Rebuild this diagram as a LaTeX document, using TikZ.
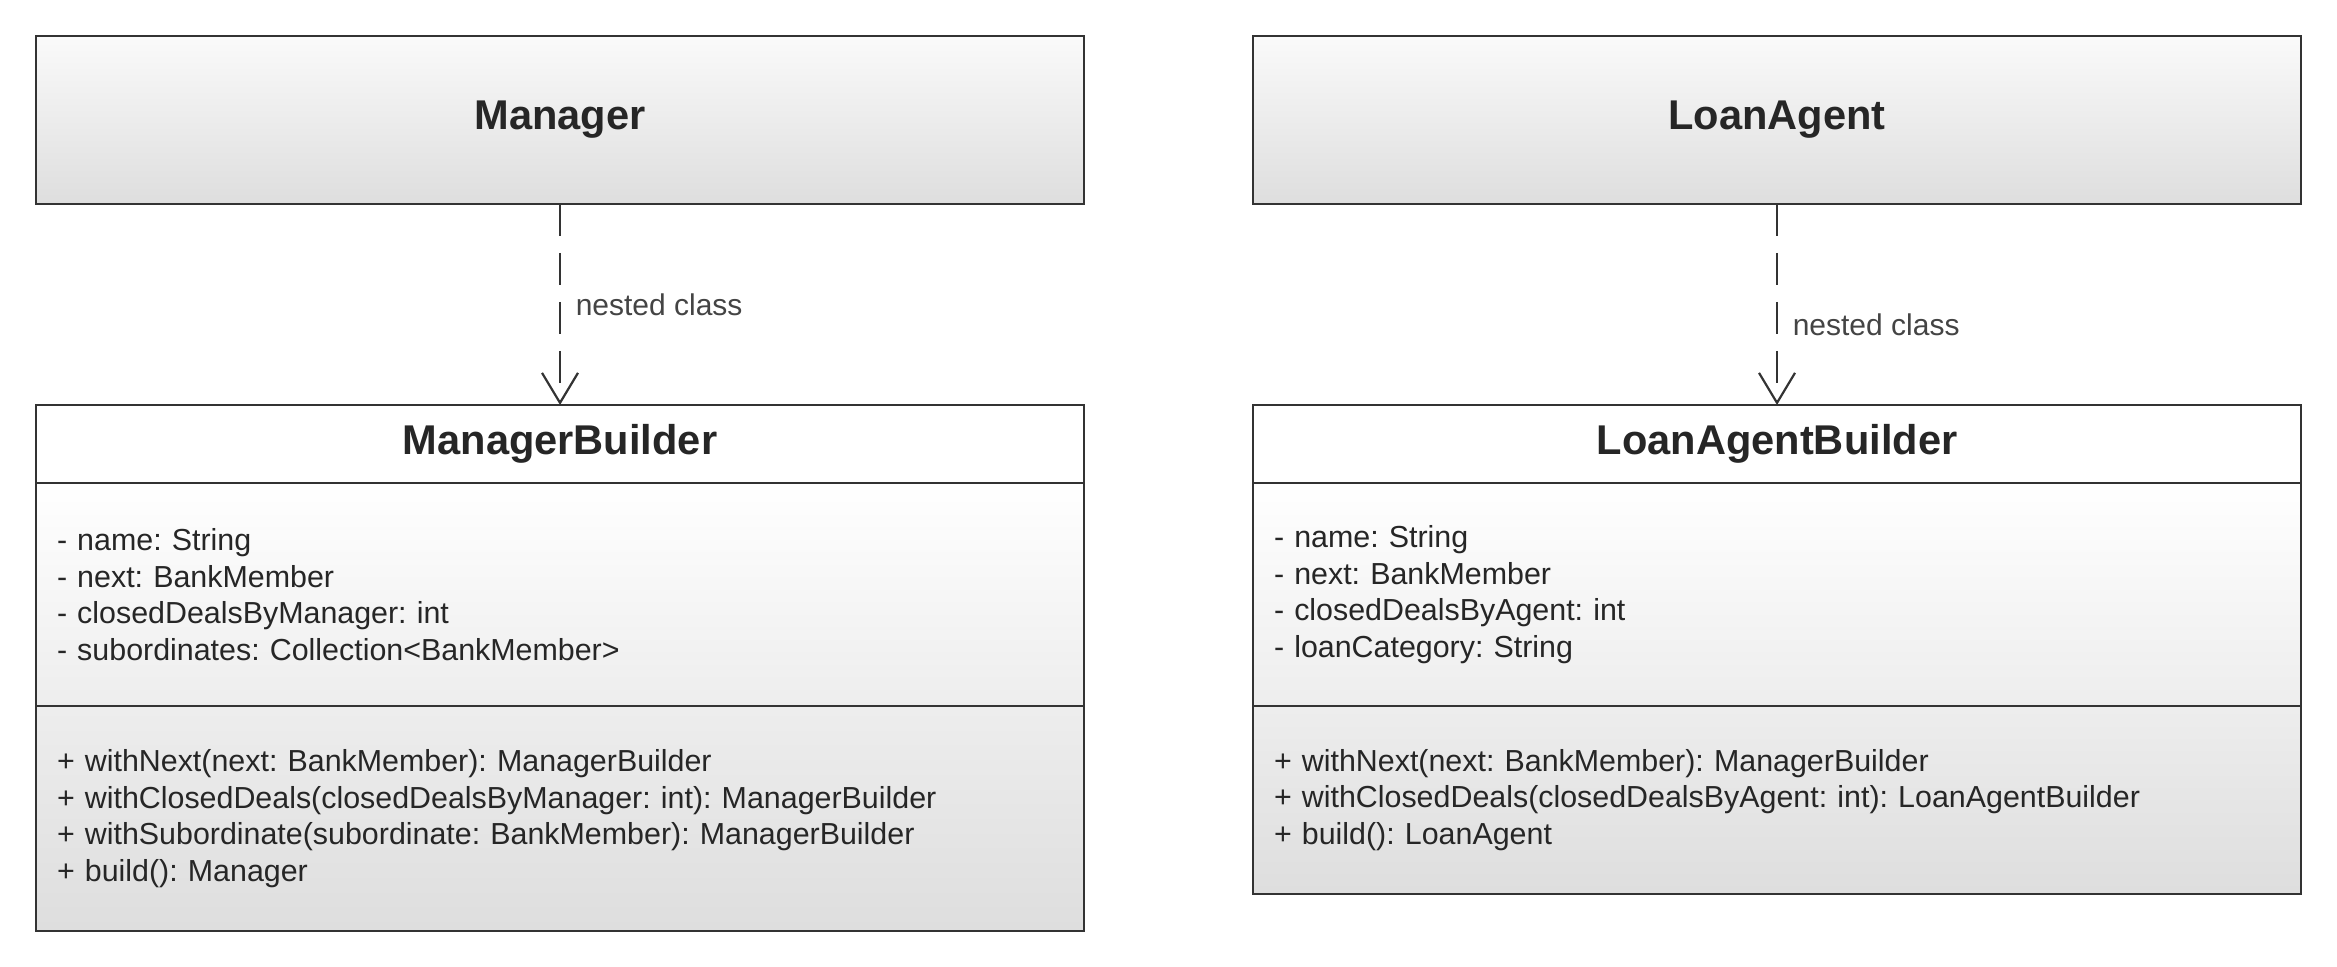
\documentclass[tikz,border=0pt]{standalone}
\usepackage{fontspec}
\setmainfont{Liberation Sans}
\usepackage{tikz}
\usetikzlibrary{positioning,arrows.meta}
\frenchspacing
\definecolor{umlline}{HTML}{333333}
\definecolor{umltext}{HTML}{262626}
\definecolor{umllabel}{HTML}{444444}
\tikzstyle{umlpart} = [rectangle, draw=umlline, line width=1.3pt, outer sep=0pt, minimum width=524pt, text=umltext]
\tikzstyle{classhead} = [umlpart, top color=black!2, bottom color=black!13, minimum height=84pt, font=\fontsize{20.8}{25}\selectfont\bfseries]
\tikzstyle{classname} = [umlpart, fill=white, minimum height=39pt, font=\fontsize{20.8}{25}\selectfont\bfseries]
\tikzstyle{fields} = [umlpart, top color=white, bottom color=black!7, minimum height=111.5pt, text width=503pt, inner xsep=10.5pt, align=left, font=\fontsize{15.2}{18.3}\selectfont]
\tikzstyle{methods} = [fields, top color=black!7, bottom color=black!13]
\tikzstyle{line} = [draw=umlline, line width=1.1pt, dash pattern=on 16pt off 8.5pt, -{Straight Barb[length=15pt, width=18pt]}]
\tikzstyle{note} = [right, xshift=4pt, text=umllabel, font=\fontsize{15}{18}\selectfont]

\begin{document}
\begin{tikzpicture}[x=0.5pt, y=-0.5pt, node distance=100.5pt]
    \useasboundingbox (0,0) rectangle (2337,967);
    \node [classhead] (manager) at (560,120) {Manager};
    \node [classhead, right=84.5pt of manager] (loanAgent) {LoanAgent};
    \node [classname, below=of manager] (managerBuilder) {ManagerBuilder};
    \node [fields, below=0pt of managerBuilder] (managerFields) {- name: String\\- next: BankMember\\- closedDealsByManager: int\\- subordinates: Collection<BankMember>};
    \node [methods, below=0pt of managerFields, minimum height=112.5pt] (managerMethods) {+ withNext(next: BankMember): ManagerBuilder\\+ withClosedDeals(closedDealsByManager: int): ManagerBuilder\\+ withSubordinate(subordinate: BankMember): ManagerBuilder\\+ build(): Manager};
    \node [classname, below=of loanAgent] (loanAgentBuilder) {LoanAgentBuilder};
    \node [fields, below=0pt of loanAgentBuilder] (loanAgentFields) {- name: String\\- next: BankMember\\- closedDealsByAgent: int\\- loanCategory: String};
    \node [methods, below=0pt of loanAgentFields, minimum height=94pt] (loanAgentMethods) {+ withNext(next: BankMember): ManagerBuilder\\+ withClosedDeals(closedDealsByAgent: int): LoanAgentBuilder\\+ build(): LoanAgent};
    \path [line] (manager) -- (managerBuilder) node [note, midway] {nested class};
    \path [line] (loanAgent) -- (loanAgentBuilder) node [note, pos=0.6] {nested class};
\end{tikzpicture}
\end{document}
